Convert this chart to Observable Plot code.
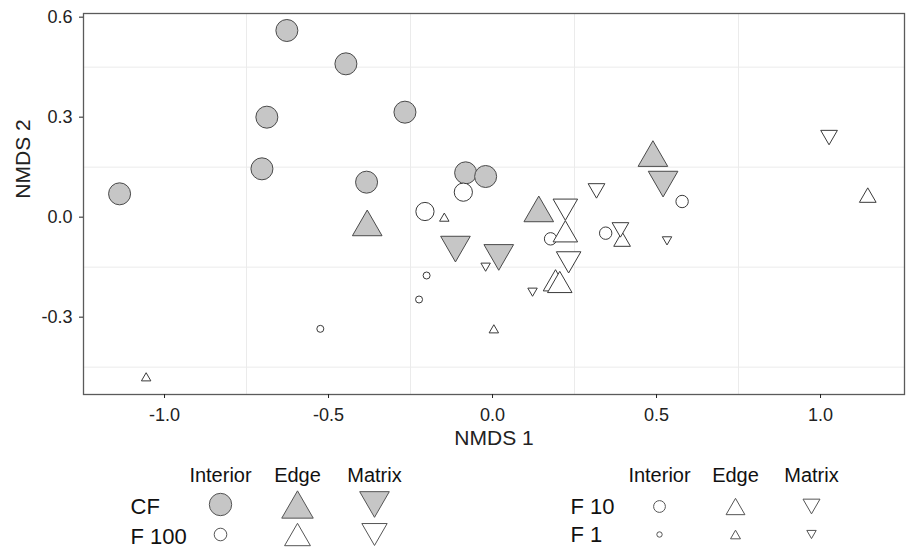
<!DOCTYPE html>
<html>
<head>
<meta charset="utf-8">
<script src="https://cdn.jsdelivr.net/npm/d3@7"></script>
<script src="https://cdn.jsdelivr.net/npm/@observablehq/plot@0.6"></script>
<style>
  html, body { margin: 0; padding: 0; background: #fff; }
  #wrap { position: relative; width: 906px; height: 548px; overflow: hidden; background: #fff;
          font-family: "Liberation Sans", Arial, sans-serif; }
  #main { position: absolute; left: 0; top: 0; }
  #legL { position: absolute; left: 0; top: 455px; }
  #legR { position: absolute; left: 453px; top: 455px; }
</style>
</head>
<body>
<div id="wrap"><div id="main"></div><div id="legL"></div><div id="legR"></div></div>
<script>
// ---------------- data (NMDS 1, NMDS 2) ----------------
const fragments = ["CF", "F 100", "F 10", "F 1"];
const habitats = ["Interior", "Edge", "Matrix"];
const xTicks = [-1.0, -0.5, 0.0, 0.5, 1.0];
const yTicks = [-0.3, 0.0, 0.3, 0.6];
const xAxisTitle = "NMDS 1";
const yAxisTitle = "NMDS 2";

const CF_interior = [[-1.137, 0.070], [-0.703, 0.145], [-0.688, 0.300], [-0.627, 0.560], [-0.447, 0.460],
                     [-0.384, 0.105], [-0.267, 0.315], [-0.082, 0.133], [-0.021, 0.122]];
const CF_edge = [[-0.382, -0.030], [0.141, 0.012], [0.489, 0.178]];
const CF_matrix = [[-0.113, -0.083], [0.019, -0.108], [0.520, 0.112]];
const F100_interior = [[-0.206, 0.017], [-0.089, 0.075]];
const F100_edge = [[0.222, -0.053], [0.192, -0.200], [0.205, -0.205]];
const F100_matrix = [[0.222, 0.033], [0.232, -0.125]];
const F10_interior = [[0.177, -0.065], [0.345, -0.048], [0.578, 0.047]];
const F10_edge = [[0.395, -0.073], [1.144, 0.059]];
const F10_matrix = [[0.317, 0.086], [0.390, -0.031], [1.026, 0.246]];
const F1_interior = [[-0.525, -0.335], [-0.224, -0.247], [-0.201, -0.175]];
const F1_edge = [[-1.056, -0.483], [-0.147, -0.004], [0.004, -0.339]];
const F1_matrix = [[-0.021, -0.146], [0.122, -0.221], [0.532, -0.067]];

const legendLeftRows = ["CF", "F 100"];
const legendRightRows = ["F 10", "F 1"];

// ---------------- build table ----------------
const groups = [
  ["CF", "Interior", CF_interior], ["CF", "Edge", CF_edge], ["CF", "Matrix", CF_matrix],
  ["F 100", "Interior", F100_interior], ["F 100", "Edge", F100_edge], ["F 100", "Matrix", F100_matrix],
  ["F 10", "Interior", F10_interior], ["F 10", "Edge", F10_edge], ["F 10", "Matrix", F10_matrix],
  ["F 1", "Interior", F1_interior], ["F 1", "Edge", F1_edge], ["F 1", "Matrix", F1_matrix]
];
const rows = groups.flatMap(([fragment, habitat, pts]) => pts.map(([x, y]) => ({fragment, habitat, x, y})));

// ---------------- styles ----------------
const triangleDown = {
  draw(context, size) {
    const y = Math.sqrt(size / (Math.sqrt(3) * 3));
    context.moveTo(0, y * 2);
    context.lineTo(-Math.sqrt(3) * y, -y);
    context.lineTo(Math.sqrt(3) * y, -y);
    context.closePath();
  }
};
const symbolOf = {Interior: d3.symbolCircle, Edge: d3.symbolTriangle, Matrix: triangleDown};
const radiusOf = {"CF": 11, "F 100": 9.1, "F 10": 6.2, "F 1": 3.5};
const fillOf = f => f === "CF" ? "#c6c6c6" : "#ffffff";
const strokeOf = f => f === "CF" ? "#4a4a4a" : "#3a3a3a";
const FONT = '"Liberation Sans", Arial, sans-serif';

// ---------------- main plot ----------------
const dotMarks = [];
for (const h of habitats) {
  for (const f of fragments) {
    const data = rows.filter(d => d.habitat === h && d.fragment === f);
    dotMarks.push(Plot.dot(data, {
      x: "x", y: "y", r: radiusOf[f], symbol: symbolOf[h],
      fill: fillOf(f), stroke: strokeOf(f), strokeWidth: 1
    }));
  }
}

const main = Plot.plot({
  width: 906, height: 460,
  marginLeft: 83, marginRight: 2, marginTop: 13, marginBottom: 66,
  style: {fontFamily: FONT, background: "white", overflow: "visible"},
  x: {domain: [-1.247, 1.256]},
  y: {domain: [-0.532, 0.611]},
  marks: [
    Plot.gridX([-0.75, -0.25, 0.25, 0.75], {stroke: "#ebebeb", strokeOpacity: 1}),
    Plot.gridY([-0.45, -0.15, 0.15, 0.45], {stroke: "#ebebeb", strokeOpacity: 1}),
    Plot.frame({stroke: "#5a5a5a", strokeWidth: 1.3}),
    Plot.axisX({ticks: xTicks, tickFormat: d => d.toFixed(1), tickSize: 4, tickPadding: 10,
                fontSize: 18, color: "#222", label: null}),
    Plot.axisY({ticks: yTicks, tickFormat: d => d.toFixed(1), tickSize: 4, tickPadding: 7,
                fontSize: 18, color: "#222", label: null}),
    ...dotMarks,
    Plot.text([xAxisTitle], {frameAnchor: "bottom", lineAnchor: "middle", dy: 44, text: d => d,
                             fontSize: 21, fill: "#222"}),
    Plot.text([yAxisTitle], {frameAnchor: "left", textAnchor: "middle", lineAnchor: "middle",
                             dx: -60, dy: -45, rotate: -90, text: d => d, fontSize: 21, fill: "#222"})
  ]
});
document.getElementById("main").appendChild(main);

// ---------------- legends ----------------
const legendRadius = {
  "CF": {Interior: 11.2, Edge: 11.7, Matrix: 11},
  "F 100": {Interior: 6.3, Edge: 9.6, Matrix: 9.4},
  "F 10": {Interior: 5.9, Edge: 7.0, Matrix: 6.3},
  "F 1": {Interior: 2.7, Edge: 3.7, Matrix: 3.5}
};
function legend(rowNames, xRange, yRange, labelX, labelDy) {
  const marks = [];
  for (const f of rowNames) {
    for (const h of habitats) {
      const r = legendRadius[f][h];
      const dy = h === "Edge" ? 0.389 * r : h === "Matrix" ? -0.389 * r : 0;
      marks.push(Plot.dot([{fragment: f, habitat: h}], {
        x: "habitat", y: "fragment", r, symbol: symbolOf[h], dy,
        fill: fillOf(f), stroke: "#555", strokeWidth: 1
      }));
    }
  }
  return Plot.plot({
    width: 453, height: 93, margin: 0,
    style: {fontFamily: FONT, background: "transparent", overflow: "visible"},
    x: {type: "point", domain: habitats, range: xRange, padding: 0, axis: null},
    y: {type: "point", domain: rowNames, range: yRange, padding: 0, axis: null},
    marks: [
      Plot.text(habitats, {x: d => d, frameAnchor: "top", lineAnchor: "middle", dy: 20, text: d => d,
                           fontSize: 20, fill: "#111"}),
      Plot.text(rowNames, {y: d => d, frameAnchor: "left", lineAnchor: "middle", dx: labelX, dy: labelDy,
                           textAnchor: "start", text: d => d, fontSize: 22, fill: "#111"}),
      ...marks
    ]
  });
}
document.getElementById("legL").appendChild(legend(legendLeftRows, [220, 374], [49, 79], 130, 2));
document.getElementById("legR").appendChild(legend(legendRightRows, [658 - 453, 811 - 453], [51, 79.5], 570 - 453, 0));
</script>
</body>
</html>
